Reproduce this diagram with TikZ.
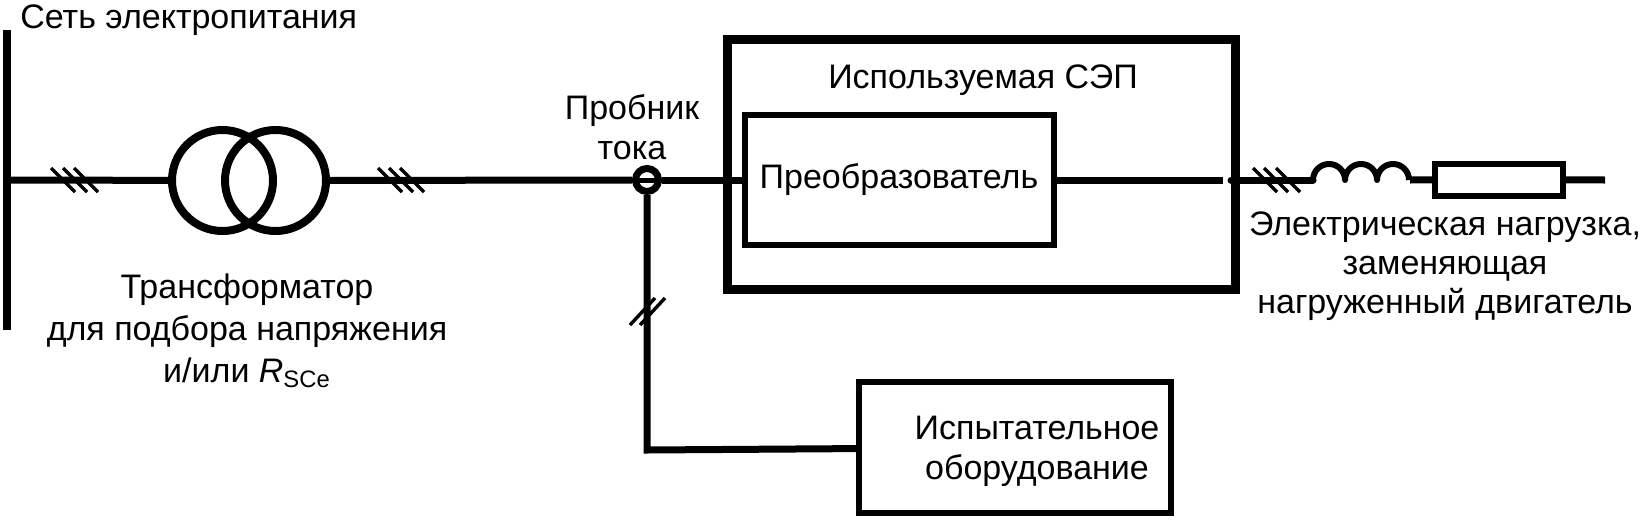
\documentclass[tikz,border=0pt]{standalone}
\usepackage{fontspec}
\setmainfont{Liberation Sans}
\usetikzlibrary{positioning}
\tikzset{
	wire/.style={line width=3.5pt},
	tick/.style={line width=1.7pt},
	label node/.style={align=center,inner sep=0pt,font=\fontsize{17}{20}\selectfont},
	main box/.style={draw,line width=3pt,inner sep=0pt},
	coil/.style={circle,draw,line width=4pt,minimum size=50.5pt,inner sep=0pt}
}
\begin{document}
\begin{tikzpicture}[x=0.5pt,y=-0.5pt]
	\useasboundingbox (0,0) rectangle (1642,520);

	\coordinate (bus top) at (7,30);
	\coordinate (bus bottom) at (7,330);
	\coordinate (bus in) at (7,180);

	\node[coil] (t1) at (222.5,180.5) {};
	\node[coil] (t2) at (275.5,180.5) {};
	\node[circle,draw,line width=3.5pt,minimum size=11.5pt,inner sep=0pt] (probe) at (647,180) {};

	\node[main box,line width=4.5pt,minimum width=253.75pt,minimum height=125pt] (sep) at (981.25,164) {};
	\node[main box,minimum width=154.5pt,minimum height=65pt] (conv) at (899,180) {};
	\node[main box,minimum width=156pt,minimum height=65.5pt] (test) at (1015,447.5) {};
	\node[main box,minimum width=64pt,minimum height=16pt] (load) at (1499,179.5) {};

	\coordinate (gap left) at (1223,180);
	\coordinate (gap right) at (1231,180);
	\coordinate (coil in) at (1313,180);
	\coordinate (coil out) at (1410,180);
	\coordinate (line end) at (1605,180);
	\coordinate (probe corner) at (647,450);

	% labels
	\node[label node,anchor=west] (grid) at (20,20) {Сеть электропитания};
	\node[label node,font=\fontsize{17}{21}\selectfont] (tlabel) at (247,331) {Трансформатор\\для подбора напряжения\\и/или \textit{R}\textsubscript{SCe}};
	\node[label node] (plabel) at (632,127) {Пробник\\тока};
	\node[label node] (seplabel) at (983,80) {Используемая СЭП};
	\node[label node] (convlabel) at (conv) {Преобразователь};
	\node[label node] (testlabel) at (1037,451) {Испытательное\\оборудование};
	\node[label node,font=\fontsize{17}{19.5}\selectfont] (loadlabel) at (1445,266) {Электрическая нагрузка,\\заменяющая\\нагруженный двигатель};

	% lines
	\draw[line width=4pt] (bus top) -- (bus bottom);
	\path[wire]
		(bus in) edge (t1)
		(t2) edge (probe)
		(probe) edge (conv)
		(conv) edge (gap left)
		(gap right) edge[line cap=round] (coil in)
		(coil out) edge (load)
		(load) edge (line end)
		;
	\draw[wire] (probe) -- (probe corner) -- (test);
	\draw[line width=3pt,line join=round] (coil in) arc[start angle=180,end angle=360,radius=16]
		arc[start angle=180,end angle=360,radius=16]
		arc[start angle=180,end angle=360,radius=16];
	\draw[line width=2.5pt] (probe.west) -- (probe.east);

	% phase marks
	\foreach \x in {63,75,86,390,401,412,1265,1276,1288}
		\draw[tick] (\x-12,168) -- (\x+12,192);
	\foreach \x in {630,640}
		\draw[tick] (\x,325) -- (\x+25,298);
\end{tikzpicture}
\end{document}
